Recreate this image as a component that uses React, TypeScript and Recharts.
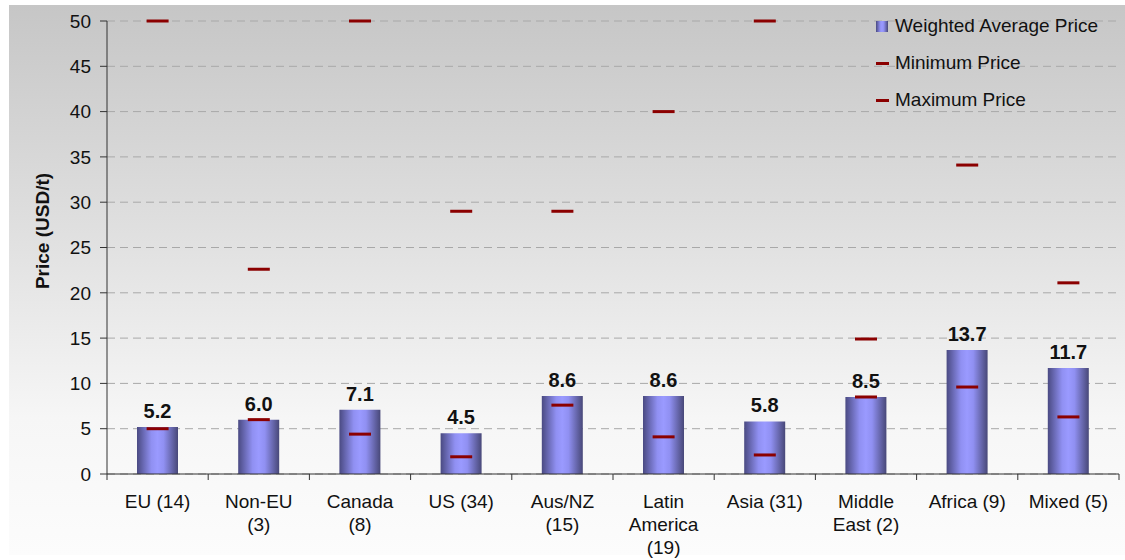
import React from 'react';
import { ComposedChart, Bar, Scatter, XAxis, YAxis, CartesianGrid, LabelList, Legend } from 'recharts';

const categories = ['EU (14)', 'Non-EU\n(3)', 'Canada\n(8)', 'US (34)', 'Aus/NZ\n(15)', 'Latin\nAmerica\n(19)', 'Asia (31)', 'Middle\nEast (2)', 'Africa (9)', 'Mixed (5)'];
const weightedAvg = [5.2, 6.0, 7.1, 4.5, 8.6, 8.6, 5.8, 8.5, 13.7, 11.7];
const minPrice = [5.0, 6.0, 4.4, 1.9, 7.6, 4.1, 2.1, 8.5, 9.6, 6.3];
const maxPrice = [50, 22.6, 50, 29.0, 29.0, 40.0, 50, 14.9, 34.1, 21.1];
const yTicks = [0, 5, 10, 15, 20, 25, 30, 35, 40, 45, 50];
const seriesNames = ['Weighted Average Price', 'Minimum Price', 'Maximum Price'];

const data = categories.map((c, i) => ({ name: c, avg: weightedAvg[i], min: minPrice[i], max: maxPrice[i] }));

const W = 1125;
const H = 560;
const PLOT_LEFT = 107;
const PLOT_RIGHT = 1119;
const PLOT_TOP = 21;
const PLOT_BOTTOM = 474;
const BAND = (PLOT_RIGHT - PLOT_LEFT) / categories.length;
const FONT = '"Liberation Sans", Arial, sans-serif';
const MARK = '#8b0000';

const XTick = (props: any) => {
  const { x, payload } = props;
  const lines = String(payload.value).split('\n');
  const isLast = payload.value === categories[categories.length - 1];
  return (
    <g>
      <line x1={x - BAND / 2} y1={PLOT_BOTTOM} x2={x - BAND / 2} y2={PLOT_BOTTOM + 6} stroke="#333" />
      {isLast && <line x1={x + BAND / 2} y1={PLOT_BOTTOM} x2={x + BAND / 2} y2={PLOT_BOTTOM + 6} stroke="#333" />}
      <text x={x} y={PLOT_BOTTOM + 34} textAnchor="middle" fontSize={19} fill="#111" fontFamily={FONT}>
        {lines.map((l, i) => (
          <tspan key={i} x={x} dy={i === 0 ? 0 : 23}>{l}</tspan>
        ))}
      </text>
    </g>
  );
};

const Marker = (props: any) => {
  const { cx, cy } = props;
  if (cx == null || cy == null) return null;
  return <rect x={cx - 11} y={cy - 1.5} width={22} height={3} fill={MARK} />;
};

const renderLegend = () => (
  <div style={{ fontFamily: FONT, fontSize: 19, color: '#111' }}>
    {seriesNames.map((n, i) => (
      <div key={n} style={{ display: 'flex', alignItems: 'center', height: 37 }}>
        <svg width={20} height={14} style={{ marginRight: 2 }}>
          {i === 0 ? (
            <rect x={3} y={2} width={12} height={11} fill="url(#barGrad)" />
          ) : (
            <rect x={3} y={6} width={13} height={3} fill={MARK} />
          )}
        </svg>
        <span>{n}</span>
      </div>
    ))}
  </div>
);

const YLabel = () => (
  <text
    x={49}
    y={231}
    transform="rotate(-90 49 231)"
    textAnchor="middle"
    fontSize={19}
    fontWeight="bold"
    fill="#111"
    fontFamily={FONT}
  >
    Price (USD/t)
  </text>
);

export default function App() {
  return (
    <div style={{ position: 'absolute', left: 0, top: 0, width: W, height: H, background: '#fff' }}>
      <div
        style={{
          position: 'absolute',
          left: 9,
          top: 5,
          width: W - 9,
          height: H - 10,
          background: 'linear-gradient(to bottom, #c6c6c6 0%, #e2e2e2 45%, #f6f6f6 75%, #fcfcfc 100%)',
        }}
      />
      <svg width={0} height={0} style={{ position: 'absolute' }}>
        <defs>
          <linearGradient id="barGrad" x1="0" y1="0" x2="1" y2="0">
            <stop offset="0%" stopColor="#4a4a82" />
            <stop offset="35%" stopColor="#9090f2" />
            <stop offset="50%" stopColor="#9a9aff" />
            <stop offset="65%" stopColor="#9090f2" />
            <stop offset="100%" stopColor="#484878" />
          </linearGradient>
        </defs>
      </svg>
      <div style={{ position: 'absolute', left: 0, top: 0 }}>
        <ComposedChart
          width={W}
          height={H}
          data={data}
          margin={{ top: PLOT_TOP, right: W - PLOT_RIGHT, bottom: 0, left: 0 }}
        >
          <CartesianGrid vertical={false} stroke="#a8a8a8" strokeDasharray="8 5" />
          <XAxis
            dataKey="name"
            height={H - PLOT_BOTTOM}
            tickLine={false}
            axisLine={{ stroke: '#333' }}
            tick={<XTick />}
            interval={0}
          />
          <YAxis
            width={PLOT_LEFT}
            domain={[0, 50]}
            ticks={yTicks}
            tickSize={7}
            tickMargin={9}
            axisLine={{ stroke: '#333' }}
            tickLine={{ stroke: '#333' }}
            tick={{ fontSize: 19, fill: '#111', fontFamily: FONT }}
          />
          <Bar dataKey="avg" name={seriesNames[0]} barSize={41} fill="url(#barGrad)" isAnimationActive={false}>
            <LabelList
              dataKey="avg"
              position="top"
              offset={9}
              formatter={(v: any) => Number(v).toFixed(1)}
              style={{ fontSize: 20, fontWeight: 'bold', fill: '#111', fontFamily: FONT }}
            />
          </Bar>
          <Scatter dataKey="min" name={seriesNames[1]} shape={<Marker />} isAnimationActive={false} />
          <Scatter dataKey="max" name={seriesNames[2]} shape={<Marker />} isAnimationActive={false} />
          <Legend
            layout="horizontal"
            verticalAlign="middle"
            align="center"
            content={renderLegend}
            wrapperStyle={{ position: 'absolute', left: 873, top: 7, width: 250, height: 115 }}
          />
          <YLabel />
        </ComposedChart>
      </div>
    </div>
  );
}
